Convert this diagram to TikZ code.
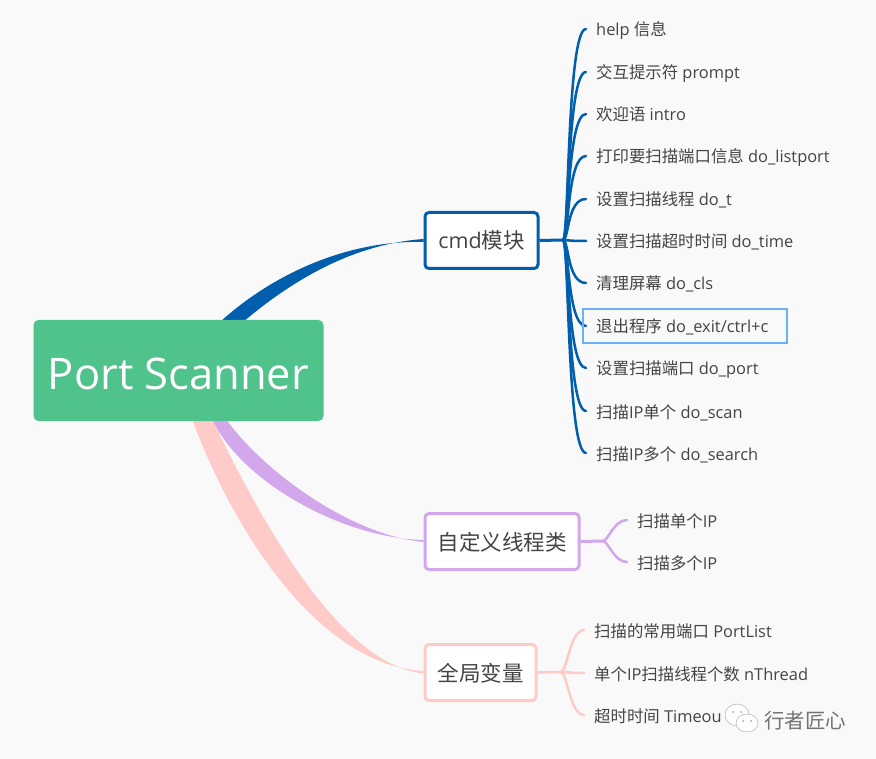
\documentclass[tikz,border=0pt]{standalone}
\usepackage{fontspec}
\setmainfont{Open Sans}
\newfontfamily\cjk{Noto Sans CJK SC}
\newcommand{\zh}[1]{{\cjk #1}}
\usepackage{xcolor}
\usetikzlibrary{positioning,backgrounds}
\definecolor{bgcol}{HTML}{F9F9F9}
\definecolor{rootcol}{HTML}{50C38C}
\definecolor{cmdcol}{HTML}{005EAC}
\definecolor{threadcol}{HTML}{D3A7EB}
\definecolor{globalcol}{HTML}{FFCBC9}
\definecolor{selcol}{HTML}{6AB0F8}
\definecolor{txtcol}{HTML}{444444}
\tikzset{
  rootbox/.style={fill=rootcol,text=white,rounded corners=5pt,minimum width=290pt,minimum height=101pt,inner sep=0pt,text height=39pt,text depth=0pt,font=\fontsize{43.5}{50}\selectfont},
  topicbox/.style={draw=#1,fill=white,line width=3pt,rounded corners=4pt,minimum height=56pt,inner sep=0pt,text height=17pt,text depth=0pt,text=txtcol,font=\fontsize{21.5}{25}\selectfont},
  leafbox/.style={anchor=west,inner ysep=0pt,inner xsep=10pt,text height=14pt,text depth=0pt,text=txtcol,font=\fontsize{16.4}{19}\selectfont},
  leafline/.style={draw=#1,line width=2.5pt,line cap=round},
}
\begin{document}
\begin{tikzpicture}[x=1pt,y=-1pt]
\useasboundingbox (0,0) rectangle (876,759);
\node[rootbox] (root) at (178.5,370.5) {Port Scanner};
\node[topicbox=cmdcol,minimum width=113pt] (cmd) at (481.5,240.5) {cmd\zh{模块}};
\node[topicbox=threadcol,minimum width=154pt] (thread) at (502,541.5) {\zh{自定义线程类}};
\node[topicbox=globalcol,minimum width=111pt] (global) at (480.5,672.5) {\zh{全局变量}};
\coordinate (cmdhub) at (563,240);
\coordinate (threadhub) at (603,541);
\coordinate (globalhub) at (561,672);
% branches
\begin{scope}[on background layer]
\fill[bgcol] (0,0) rectangle (876,759);
\fill[cmdcol] (220,322) .. controls (275,272) and (350,240) .. ([yshift=-1.5pt]cmd.west) -- ([yshift=1.5pt]cmd.west) .. controls (355,244) and (295,278) .. (243,322) -- cycle;
\fill[threadcol] (212,419) .. controls (240,480) and (340,538) .. ([yshift=1.5pt]thread.west) -- ([yshift=-.5pt]thread.west) .. controls (350,535) and (262,470) .. (226,419) -- cycle;
\fill[globalcol] (192,419) .. controls (235,535) and (320,665) .. ([yshift=1.5pt]global.west) -- ([yshift=-1pt]global.west) .. controls (345,665) and (270,540) .. (212,419) -- cycle;
\end{scope}
% cmd leaves
\foreach \ypos/\nm/\txt in {29/a/{help \zh{信息}},72/b/{\zh{交互提示符} prompt},114/c/{\zh{欢迎语} intro},156/d/{\zh{打印要扫描端口信息} do\_listport},199/e/{\zh{设置扫描线程} do\_t},241/f/{\zh{设置扫描超时时间} do\_time},283/g/{\zh{清理屏幕} do\_cls},326/h/{\zh{退出程序} do\_exit/ctrl+c},368/i/{\zh{设置扫描端口} do\_port},411/j/{\zh{扫描}IP\zh{单个} do\_scan},453/k/{\zh{扫描}IP\zh{多个} do\_search}}{
  \node[leafbox] (cmd\nm) at (586,\ypos) {\txt};
  \draw[leafline=cmdcol] (cmdhub) .. controls +(6,0) and +(-19,0) .. (cmd\nm.west);
}
\draw[draw=cmdcol,line width=3pt] (cmd.east) -- (cmdhub);
\draw[draw=selcol,line width=2pt] (583,309) rectangle (787,343);
% thread leaves
\foreach \ypos/\nm/\txt in {520/a/{\zh{扫描单个}IP},562/b/{\zh{扫描多个}IP}}{
  \node[leafbox] (thread\nm) at (627,\ypos) {\txt};
  \draw[leafline=threadcol] (threadhub) .. controls +(5,0) and +(-13,0) .. (thread\nm.west);
}
\draw[draw=threadcol,line width=3pt] (thread.east) -- (threadhub);
% global leaves
\foreach \ypos/\nm/\txt in {630/a/{\zh{扫描的常用端口} PortList},673/b/{\zh{单个}IP\zh{扫描线程个数} nThread},715/c/{\zh{超时时间} Timeou}}{
  \node[leafbox] (global\nm) at (584,\ypos) {\txt};
  \draw[leafline=globalcol] (globalhub) .. controls +(6,0) and +(-14,0) .. (global\nm.west);
}
\draw[draw=globalcol,line width=2.5pt] (global.east) -- (globalhub);
% watermark
\draw[fill=white,draw=gray!60,line width=.5pt] (737,715) ellipse (12 and 11);
\draw[fill=white,draw=gray!60,line width=.5pt] (747,723) ellipse (11 and 9);
\fill[gray!70] (733,712) circle (1) (741,712) circle (1) (743,721) circle (1) (751,721) circle (1);
\node[anchor=west,inner sep=0pt,text=gray!90!black,font=\fontsize{20.5}{24}\selectfont] (mark) at (764,721) {\zh{行者匠心}};
\end{tikzpicture}
\end{document}
